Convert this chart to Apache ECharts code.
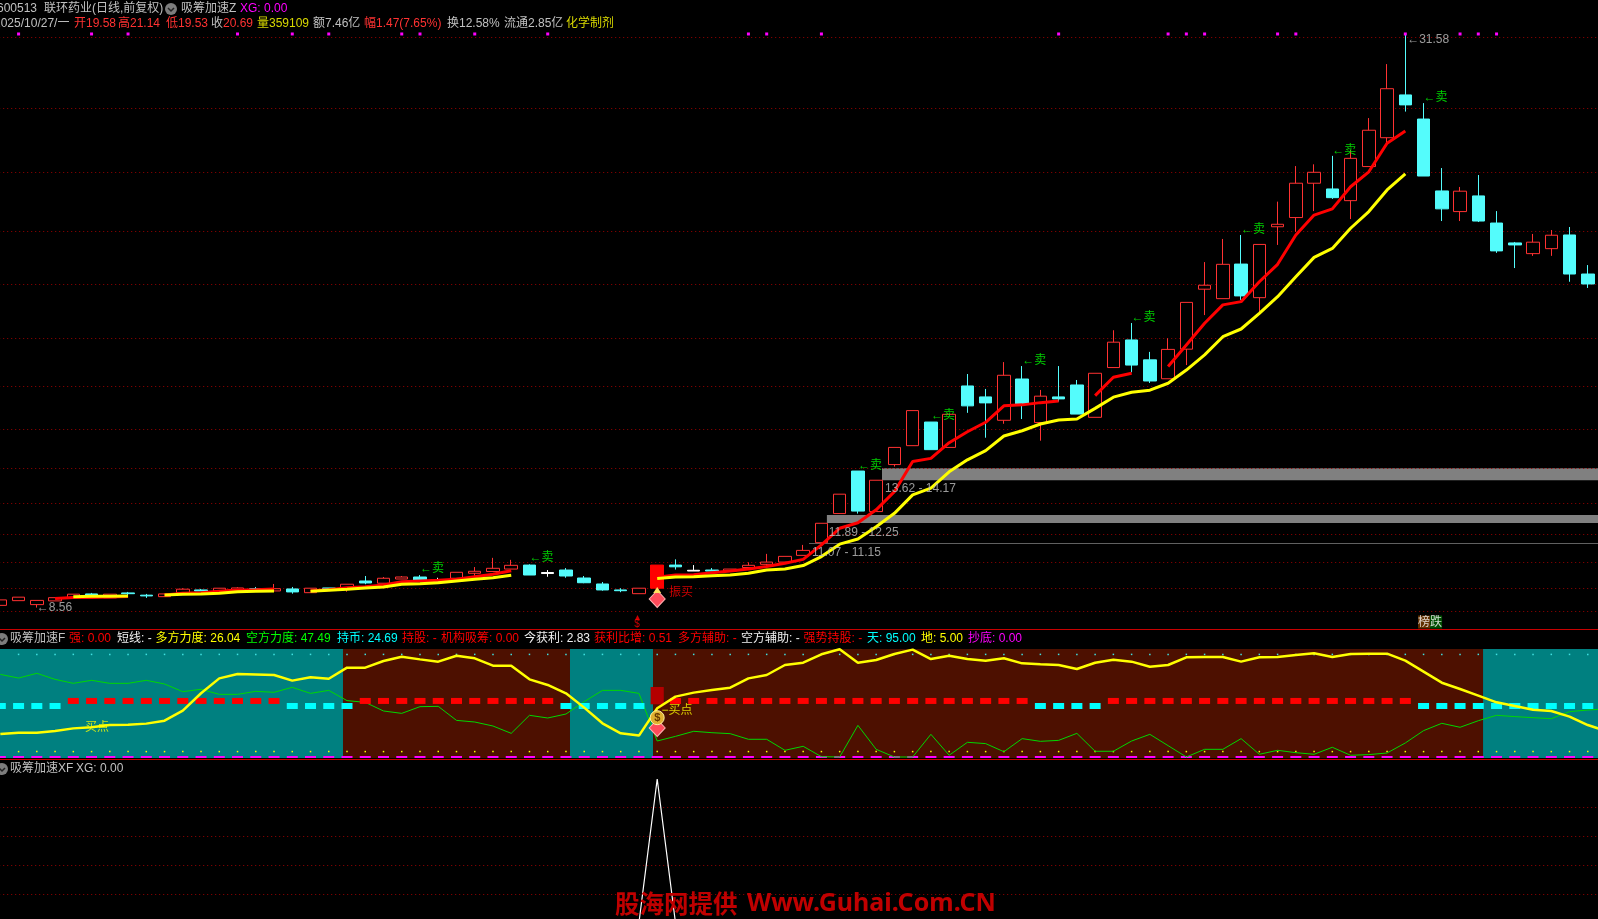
<!DOCTYPE html>
<html><head><meta charset="utf-8">
<style>html,body{margin:0;padding:0;background:#000;overflow:hidden}#c{width:1598px;height:919px}</style>
<script src="https://cdn.jsdelivr.net/npm/echarts@6/dist/echarts.min.js"></script>
</head><body><div id="c"></div>
<script>
// ---- price data (one entry per trading day)
const opens=[8.65,8.84,8.68,8.83,8.94,9.11,8.95,9.15,9.06,9.00,9.16,9.27,9.23,9.27,9.32,9.23,9.31,9.16,9.35,9.35,9.63,9.54,9.71,9.79,9.60,9.74,9.94,10.01,10.11,10.27,9.93,10.07,9.75,9.51,9.27,9.12,9.34,10.27,10.03,10.07,10.03,10.17,10.30,10.39,10.66,11.17,12.34,14.05,12.42,14.31,15.07,16.02,15.00,17.47,17.03,16.09,17.75,16.00,17.03,17.51,16.21,18.21,19.32,18.52,17.76,18.95,21.36,20.98,22.37,21.02,23.87,24.24,25.62,25.39,24.92,26.29,27.45,29.17,28.20,25.31,24.48,25.11,24.02,23.22,22.79,22.99,23.54,21.97];
const closes=[8.87,8.98,8.85,8.96,9.10,9.04,9.10,9.12,9.03,9.11,9.30,9.23,9.34,9.35,9.30,9.32,9.19,9.34,9.31,9.50,9.55,9.74,9.79,9.67,9.67,9.98,10.02,10.14,10.26,9.87,9.97,9.83,9.56,9.27,9.24,9.34,10.27,10.20,10.06,10.03,10.11,10.26,10.39,10.62,10.86,11.95,13.12,12.44,13.68,15.00,16.48,14.91,16.33,16.67,16.79,17.90,16.75,17.06,16.95,16.34,17.98,19.23,18.31,17.67,18.94,20.83,21.52,22.36,21.09,23.16,23.97,25.62,26.06,25.04,26.62,27.75,29.42,28.77,25.91,24.59,25.30,24.10,22.90,23.14,23.25,23.53,21.97,21.57];
const lows=[8.65,8.84,8.56,8.83,8.94,9.04,8.95,8.99,8.95,9.00,9.16,9.23,9.23,9.27,9.30,9.23,9.12,9.16,9.31,9.20,9.50,9.54,9.71,9.67,9.60,9.74,9.83,10.01,10.11,9.87,9.80,9.76,9.54,9.24,9.18,9.12,9.34,10.09,10.03,10.03,10.03,10.17,10.15,10.39,10.66,11.17,12.34,12.34,12.42,14.23,15.07,14.91,15.00,16.39,15.39,15.95,16.14,15.27,16.84,16.34,16.21,18.21,18.02,17.59,17.76,18.31,20.32,20.98,20.93,20.45,23.14,23.67,24.50,24.99,24.18,26.29,27.24,28.50,25.91,24.10,24.10,24.06,22.82,22.21,22.70,22.70,21.66,21.41];
const highs=[8.87,8.98,8.85,8.96,9.10,9.15,9.10,9.19,9.11,9.11,9.34,9.31,9.34,9.38,9.39,9.51,9.39,9.34,9.35,9.50,9.83,9.79,9.83,9.87,9.76,9.98,10.19,10.56,10.48,10.30,10.07,10.15,9.83,9.59,9.34,9.34,10.27,10.50,10.27,10.15,10.11,10.38,10.72,10.62,11.08,11.95,13.12,14.05,13.68,15.00,16.48,16.02,16.33,17.95,17.35,18.43,18.27,17.31,18.27,17.71,17.98,19.71,20.00,18.84,19.39,20.83,22.45,23.38,23.54,23.16,24.88,26.31,26.38,26.72,26.96,28.24,30.41,31.58,28.84,26.23,25.47,25.95,24.50,23.26,23.58,23.74,23.86,22.33];
const dojiDays=[24,30,38];
const limitUpDay=36;
// ---- indicator lines on the price pane (null = gap in the line)
const _=null;
const redLine=[_,_,_,8.93,8.97,8.97,8.99,9.01,_,9.07,9.14,9.16,9.22,9.27,9.28,9.31,_,9.24,9.28,9.36,9.40,9.47,9.60,9.63,9.66,9.70,9.80,9.90,10.04,_,_,_,_,_,_,_,9.78,9.87,9.88,9.96,10.03,10.11,10.21,10.34,10.50,11.08,11.75,11.97,12.49,13.22,14.43,14.56,15.19,15.63,16.01,16.67,16.71,16.80,16.87,_,17.08,17.82,17.98,_,18.25,19.12,19.99,20.73,20.86,21.66,22.36,23.54,24.34,24.59,25.48,26.08,27.23,27.72,_,_,_,_,_,_,_,_,_,_];
const yellowLine=[_,_,_,_,9.00,9.02,9.02,9.03,_,9.07,9.10,9.11,9.14,9.20,9.22,9.23,_,9.22,9.26,9.30,9.35,9.39,9.50,9.52,9.56,9.63,9.70,9.76,9.86,_,_,_,_,_,_,_,9.73,9.79,9.80,9.84,9.87,9.94,10.07,10.11,10.25,10.61,11.11,11.32,11.81,12.35,13.09,13.36,14.02,14.50,14.87,15.46,15.67,15.94,16.10,16.14,16.57,17.02,17.22,17.30,17.58,18.11,18.72,19.45,19.76,20.39,21.06,21.86,22.64,23.00,23.81,24.48,25.35,26.00,_,_,_,_,_,_,_,_,_,_];
const priceGridLevels=[31.49,28.62,26.06,23.69,21.56,19.39,17.46,15.73,14.16,12.75,11.51,10.39,9.34,8.40];
// ---- support zones: [first day, low, high, label]
const zoneStart=[48.32,45.3,44.32];
const zoneLow=[13.68,11.96,11.12];
const zoneHigh=[14.16,12.28,11.15];
const zoneNames=['13.62 - 14.17','11.89 - 12.25','11.07 - 11.15'];
const zoneLabelDay=[48.49,45.4,44.48];
const zoneLabelPrice=[13.33,11.59,10.75];
// ---- signals
const sellDays=[23,29,47,51,56,62,68,73,78];
const sellPrices=[10.11,10.56,14.27,16.26,18.47,20.23,23.77,26.93,29.06];
const signalDots=[1,5,7,13,16,18,22,23,26,30,41,42,45,58,64,65,66,70,71,77,80,81,82];
// ---- 吸筹加速F pane (lines carry on one day past the right edge)
const bandEdges=[-0.5,18.78,31.22,35.77,81.26,88.5];
const bandKinds=[0,1,0,1,0];
const longForce=[21.3,22.5,22.5,24.1,26.5,27.5,29.6,29.9,30.9,33.6,42.9,59.0,72.8,76.8,76.5,75.9,70.7,73.8,72.5,82.7,82.7,88.9,92.9,90.4,88.3,93.8,91.4,84.6,84.6,71.9,66.7,59.0,45.7,31.2,21.9,19.8,45.1,55.9,59.6,62.0,64.2,72.8,75.9,85.2,87.3,95.1,99.7,87.3,89.8,95.4,99.4,90.7,93.8,90.7,89.2,91.4,86.7,85.8,85.2,81.5,87.3,90.1,88.3,83.6,85.2,92.3,92.6,92.6,88.3,92.3,92.6,94.4,96.0,92.6,95.4,95.7,95.7,89.2,79.0,68.8,63.0,56.8,50.6,47.2,43.8,42.6,37.4,29.6,24.0];
const shortForce=[76.5,73.1,77.5,71.9,68.2,71.0,68.2,68.2,71.0,67.6,60.5,62.7,58.0,58.0,60.8,59.9,64.5,58.9,61.7,52.2,50.6,42.6,40.4,46.6,46.9,33.9,32.4,28.7,21.9,38.6,36.1,39.8,51.2,61.7,61.7,58.9,14.8,19.1,23.8,22.5,21.6,16.4,16.4,6.2,9.9,0.3,0,29.3,7.1,0,0,21.0,1.6,13.6,12.4,4.9,17.0,14.5,15.4,21.9,5.3,5.3,14.8,21.0,10.5,0,7.1,7.1,17.0,2.5,6.2,4.0,2.5,9.0,1.6,2.2,3.7,13.0,24.4,31.2,27.5,33.6,38.6,37.4,36.4,35.5,42.0,43.5,44.5];
const holdState=[-1,-1,-1,-1,1,1,1,1,1,1,1,1,1,1,1,1,-1,-1,-1,-1,1,1,1,1,1,1,1,1,1,1,1,-1,-1,-1,-1,-1,0,1,1,1,1,1,1,1,1,1,1,1,1,1,1,1,1,1,1,1,1,-1,-1,-1,-1,1,1,1,1,1,1,1,1,1,1,1,1,1,1,1,1,1,-1,-1,-1,-1,-1,-1,-1,-1,-1,-1];
const holdUpper=51.9, holdLower=47.2, skyLevel=95, groundLevel=5;
// ---- 吸筹加速XF pane
const xgDay=36;
// ---- texts
const headerRow1=['600513','联环药业(日线,前复权)','吸筹加速Z','XG: 0.00'];
const headerRow2=['2025/10/27/一','开19.58','高21.14','低19.53','收','20.69','量359109','额7.46亿','幅1.47(7.65%)','换12.58%','流通2.85亿','化学制剂'];
const pane2Header=['吸筹加速F','强: 0.00','短线: -','多方力度: 26.04','空方力度: 47.49','持币: 24.69','持股: -','机构吸筹: 0.00','今获利: 2.83','获利比增: 0.51','多方辅助: -','空方辅助: -','强势持股: -','天: 95.00','地: 5.00','抄底: 0.00'];
const pane3Header=['吸筹加速XF','XG: 0.00'];
const watermarkCn='股海网提供', watermarkEn='Www.Guhai.Com.CN';

// ---- layout & styling
const FONT="'Liberation Sans','Noto Sans CJK SC',sans-serif";
const days=opens.map((v,i)=>i), paneDays=longForce.map((v,i)=>i);
const RED='#ff3232',CYAN='#54fcfc',GRAY='#c0c0c0',YEL='#d8d800',PURE='#ff0000',WHITE='#f0f0f0',MAG='#ff00ff',LINE='#c80000';
const row1X=[-3,44,181,240],row1C=[GRAY,GRAY,GRAY,MAG];
const row2X=[-6,74,118,166,211,223,257,313,364,447,504,566];
const row2C=[GRAY,RED,RED,RED,GRAY,RED,YEL,GRAY,RED,GRAY,GRAY,YEL];
const p2X=[10,69,117,155.6,246,337,402,441,524,594,678,741,803.5,867,921,968];
const p2C=[GRAY,PURE,WHITE,'#ffff00','#00ff00','#00ffff',PURE,PURE,WHITE,PURE,PURE,WHITE,PURE,'#00ffff','#ffff00',MAG];

function txt(s,x,y,c,extra){return Object.assign({type:'text',x,y,z:50,silent:true,style:Object.assign({text:s,fill:c,font:'12px '+FONT,textVerticalAlign:'middle'},extra||{})});}
const graphics=[];
headerRow1.forEach((s,i)=>graphics.push(txt(s,row1X[i],9,row1C[i])));
headerRow2.forEach((s,i)=>graphics.push(txt(s,row2X[i],23.5,row2C[i])));
pane2Header.forEach((s,i)=>graphics.push(txt(s,p2X[i],639,p2C[i])));
graphics.push(txt(pane3Header[0],10,769,GRAY),txt(pane3Header[1],76,769,GRAY));
[[171,9],[2,639],[2,769]].forEach(p=>{
  graphics.push({type:'circle',z:50,silent:true,shape:{cx:p[0],cy:p[1],r:6},style:{fill:'#7d7d7d'}});
  graphics.push({type:'polyline',z:51,silent:true,shape:{points:[[p[0]-3,p[1]-1],[p[0],p[1]+2],[p[0]+3,p[1]-1]]},style:{stroke:'#222',lineWidth:1.5,fill:'none'}});
});
graphics.push({type:'text',x:615,y:904,z:60,silent:true,style:{text:watermarkCn,fill:'#c00000',font:"bold 24.5px 'Noto Sans CJK SC'",textVerticalAlign:'middle'}});
graphics.push({type:'text',x:747,y:904,z:60,silent:true,style:{text:watermarkEn,fill:'#c00000',font:"bold 25px 'Noto Sans'",textVerticalAlign:'middle'}});

function makeCandle(i){
  const item={value:[opens[i],closes[i],lows[i],highs[i]]};
  if(dojiDays.includes(i)) item.itemStyle={color:'#fff',color0:'#fff',borderColor:'#fff',borderColor0:'#fff'};
  if(i===limitUpDay) item.itemStyle={color:'#ff0000',borderColor:'#ff0000'};
  return item;
}
function textPoint(x,y,text,color,opts){
  return {value:[x,y],label:Object.assign({show:true,formatter:text,color,position:'right',distance:0,fontSize:12,fontFamily:FONT},opts||{})};
}
const noteItems=[
  ...zoneNames.map((n,i)=>textPoint(zoneLabelDay[i],zoneLabelPrice[i],n,GRAY)),
  ...sellDays.map((d,i)=>textPoint(d,sellPrices[i],'←卖','#00ff00')),
  textPoint(77.1,31.4,'←31.58',GRAY),
  textPoint(2,8.56,'←8.56',GRAY),
  textPoint(36.65,9.16,'振买',PURE),
  textPoint(34.9,8.02,'▴\n$',PURE,{fontSize:10,lineHeight:7,position:'inside',align:'center',verticalAlign:'middle'}),
  textPoint(77.7,7.98,'{a|榜}{b|跌}',WHITE,{rich:{a:{backgroundColor:'#7a3c00',color:'#fff',fontSize:12,padding:[1,0,0,0]},b:{backgroundColor:'#006000',color:'#fff',fontSize:12,padding:[1,0,0,0]}}})
];
const hidden={show:false};
const zonesMarkArea={silent:true,z:1,itemStyle:{color:'#808080',opacity:1},data:zoneStart.map((s,i)=>[{xAxis:s,yAxis:zoneLow[i]},{xAxis:88.5,yAxis:zoneHigh[i]}])};
const bandColors=['#008080','#4d1000'];
const GRID={left:-8.8,width:1623.95,outerBoundsMode:'none'};
const solid=c=>({color:c,opacity:1});

const option={
  backgroundColor:'#000',animation:false,textStyle:{fontFamily:FONT},
  graphic:graphics,
  grid:[
    Object.assign({top:30,height:599},GRID),
    Object.assign({top:649,height:109},GRID),
    Object.assign({top:779,height:143.5},GRID)
  ],
  xAxis:[
    {type:'category',gridIndex:0,data:paneDays,boundaryGap:true,axisLabel:hidden,axisTick:hidden,splitLine:hidden,axisLine:{show:true,onZero:false,lineStyle:{color:LINE,width:1}}},
    {type:'value',gridIndex:0,min:-0.5,max:88.5,show:false},
    {type:'value',gridIndex:1,min:-0.5,max:88.5,offset:1,axisLabel:hidden,axisTick:hidden,splitLine:hidden,axisLine:{show:true,onZero:false,lineStyle:{color:LINE,width:1}}},
    {type:'value',gridIndex:2,min:-0.5,max:88.5,show:false}
  ],
  yAxis:[
    {type:'value',gridIndex:0,min:7.7,max:31.78,show:false,scale:true},
    {type:'value',gridIndex:1,min:-0.93,max:100,show:false},
    {type:'value',gridIndex:2,min:0,max:1,interval:0.2,axisLabel:hidden,axisTick:hidden,axisLine:hidden,
      splitLine:{show:true,showMinLine:false,showMaxLine:false,lineStyle:{color:'#990000',type:[1,3],width:1}}}
  ],
  series:[
    {type:'scatter',name:'zones',xAxisIndex:1,yAxisIndex:0,z:1,symbolSize:0,silent:true,data:[[0,priceGridLevels[0]]],
      markArea:zonesMarkArea,
      markLine:{silent:true,z:1,symbol:'none',label:hidden,lineStyle:{color:'#990000',type:[1,3],width:1},data:priceGridLevels.map(v=>({yAxis:v}))}},
    {type:'candlestick',name:'K',xAxisIndex:0,yAxisIndex:0,z:2,barWidth:13,clip:false,
      itemStyle:{color:'#000',color0:CYAN,borderColor:RED,borderColor0:CYAN,borderWidth:1},
      data:days.map(makeCandle)},
    {type:'line',name:'red',xAxisIndex:0,yAxisIndex:0,z:3,data:redLine,connectNulls:false,showSymbol:false,lineStyle:{color:'#ff0000',width:3},silent:true},
    {type:'line',name:'yellow',xAxisIndex:0,yAxisIndex:0,z:4,data:yellowLine,connectNulls:false,showSymbol:false,lineStyle:{color:'#ffff00',width:3},silent:true},
    {type:'scatter',name:'signal dots',xAxisIndex:1,yAxisIndex:0,z:5,symbol:'rect',symbolSize:3,itemStyle:solid(MAG),silent:true,clip:false,data:signalDots.map(d=>[d,31.62])},
    {type:'scatter',name:'gem',xAxisIndex:1,yAxisIndex:0,z:5,symbol:'diamond',symbolSize:[16,17],itemStyle:{color:'#ff4a5a',borderColor:'#ffb0b0',borderWidth:1,opacity:1},silent:true,data:[[36,8.91]]},
    {type:'scatter',name:'gem tip',xAxisIndex:1,yAxisIndex:0,z:5,symbol:'triangle',symbolSize:[8,6],itemStyle:solid('#ffe060'),silent:true,data:[[36,9.27]]},
    {type:'scatter',name:'notes',xAxisIndex:1,yAxisIndex:0,z:6,symbolSize:0,silent:true,clip:false,data:noteItems},

    {type:'scatter',name:'bands',xAxisIndex:2,yAxisIndex:1,z:1,symbolSize:0,silent:true,data:[[0,50]],
      markArea:{silent:true,z:1,data:bandKinds.map((k,i)=>[{xAxis:bandEdges[i],yAxis:-0.93,itemStyle:{color:bandColors[k],opacity:1}},{xAxis:bandEdges[i+1],yAxis:100}])}},
    {type:'scatter',name:'sky',xAxisIndex:2,yAxisIndex:1,z:2,symbol:'rect',symbolSize:1.5,itemStyle:solid('#40e0e0'),silent:true,data:days.slice(1).map(d=>[d,skyLevel])},
    {type:'scatter',name:'ground',xAxisIndex:2,yAxisIndex:1,z:2,symbol:'rect',symbolSize:1.5,itemStyle:solid('#ffff00'),silent:true,data:days.slice(1).map(d=>[d,groundLevel])},
    {type:'scatter',name:'bottom',xAxisIndex:2,yAxisIndex:1,z:2,symbol:'rect',symbolSize:[11,2],itemStyle:solid(MAG),silent:true,data:days.map(d=>[d,0])},
    {type:'line',name:'空方力度',xAxisIndex:2,yAxisIndex:1,z:3,showSymbol:false,silent:true,lineStyle:{color:'#00d800',width:1},data:paneDays.map(d=>[d,shortForce[d]])},
    {type:'scatter',name:'hold up',xAxisIndex:2,yAxisIndex:1,z:4,symbol:'rect',symbolSize:[11,6],itemStyle:solid('#ff0000'),silent:true,data:days.filter(d=>holdState[d]>0).map(d=>[d,holdUpper])},
    {type:'scatter',name:'hold down',xAxisIndex:2,yAxisIndex:1,z:4,symbol:'rect',symbolSize:[11,6],itemStyle:solid('#00ffff'),silent:true,data:days.filter(d=>holdState[d]<0).map(d=>[d,holdLower])},
    {type:'scatter',name:'block',xAxisIndex:2,yAxisIndex:1,z:4,symbolSize:0,silent:true,data:[[36,50]],
      markArea:{silent:true,z:4,itemStyle:{color:'#b40000',opacity:1},data:[[{xAxis:35.64,yAxis:48.8},{xAxis:36.36,yAxis:64.8}]]}},
    {type:'line',name:'多方力度',xAxisIndex:2,yAxisIndex:1,z:5,showSymbol:false,silent:true,lineStyle:{color:'#ffff00',width:2.5},data:paneDays.map(d=>[d,longForce[d]])},
    {type:'scatter',name:'gem2',xAxisIndex:2,yAxisIndex:1,z:6,symbol:'diamond',symbolSize:[16,17],itemStyle:{color:'#ff4a5a',borderColor:'#ffb0b0',borderWidth:1,opacity:1},silent:true,data:[[36,26.9]]},
    {type:'scatter',name:'bag',xAxisIndex:2,yAxisIndex:1,z:7,symbol:'circle',symbolSize:14,itemStyle:{color:'#e0b030',borderColor:'#fff0a0',borderWidth:1,opacity:1},silent:true,
      data:[{value:[36,36.4],label:{show:true,position:'inside',formatter:'$',color:'#6a3a00',fontSize:11,fontWeight:'bold'}}]},
    {type:'scatter',name:'buy notes',xAxisIndex:2,yAxisIndex:1,z:8,symbolSize:0,silent:true,clip:false,
      data:[textPoint(4.64,26.9,'买点','#ffff00'),textPoint(36.24,42.9,'−买点','#ffff00')]},

    {type:'line',name:'XG',xAxisIndex:3,yAxisIndex:2,z:3,showSymbol:false,silent:true,lineStyle:{color:'#ffffff',width:1.2},data:paneDays.map(d=>[d,d===xgDay?1:0])}
  ]
};
const chart=echarts.init(document.getElementById('c'),null,{renderer:'canvas',width:1598,height:919});
chart.setOption(option);
</script></body></html>
